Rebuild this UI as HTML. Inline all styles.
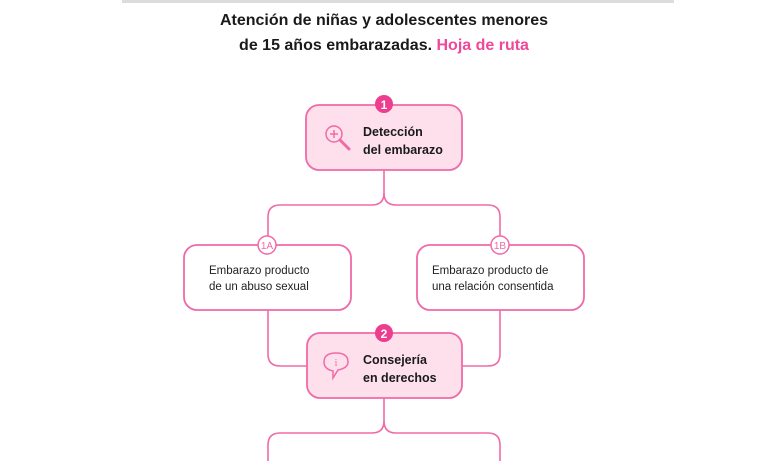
<!DOCTYPE html>
<html><head><meta charset="utf-8"><style>
body{margin:0;width:768px;height:461px;background:#fff;overflow:hidden;font-family:"Liberation Sans",sans-serif}
svg{position:absolute;left:0;top:0}
</style></head><body>
<svg width="768" height="461" viewBox="0 0 768 461">
<rect x="122" y="0" width="552" height="3" fill="#dcdcdc"/>
<text x="384" y="25" text-anchor="middle" font-size="16" font-weight="bold" fill="#1a1a1a" font-family="Liberation Sans, sans-serif">Atención de niñas y adolescentes menores</text>
<text x="384" y="50" text-anchor="middle" font-size="16" font-weight="bold" fill="#1a1a1a" font-family="Liberation Sans, sans-serif">de 15 años embarazadas. <tspan fill="#f0479a">Hoja de ruta</tspan></text>
<g fill="none" stroke="#f06aa8" stroke-width="1.6">
<path d="M384 170 V193 Q384 205 372 205 H280 Q268 205 268 217 V245"/>
<path d="M384 193 Q384 205 396 205 H488 Q500 205 500 217 V245"/>
<path d="M268 310 V354 Q268 366 280 366 H307"/>
<path d="M500 310 V354 Q500 366 488 366 H462"/>
<path d="M384 398 V421 Q384 433 372 433 H280 Q268 433 268 445 V461"/>
<path d="M384 421 Q384 433 396 433 H488 Q500 433 500 445 V461"/>
</g>
<rect x="306" y="105" width="156" height="65" rx="13" fill="#fde0ec" stroke="#f06aa8" stroke-width="1.8"/>
<rect x="307" y="333" width="155" height="65" rx="13" fill="#fde0ec" stroke="#f06aa8" stroke-width="1.8"/>
<rect x="184" y="245" width="167" height="65" rx="13" fill="#fff" stroke="#f06aa8" stroke-width="1.8"/>
<rect x="417" y="245" width="167" height="65" rx="13" fill="#fff" stroke="#f06aa8" stroke-width="1.8"/>
<circle cx="384" cy="104" r="9" fill="#ec3d8f"/>
<text x="384" y="109" text-anchor="middle" font-size="12" font-weight="bold" fill="#fff">1</text>
<circle cx="384" cy="333" r="9" fill="#ec3d8f"/>
<text x="384" y="338" text-anchor="middle" font-size="12" font-weight="bold" fill="#fff">2</text>
<circle cx="267" cy="245" r="9" fill="#fff" stroke="#f06aa8" stroke-width="1.5"/>
<text x="267" y="249" text-anchor="middle" font-size="10" fill="#f06aa8">1A</text>
<circle cx="500" cy="245" r="9" fill="#fff" stroke="#f06aa8" stroke-width="1.5"/>
<text x="500" y="249" text-anchor="middle" font-size="10" fill="#f06aa8">1B</text>
<g fill="none" stroke="#f06aa8" stroke-width="1.5">
<circle cx="334" cy="134" r="8"/><path d="M340 140 L349 149" stroke-width="3" stroke-linecap="round"/>
<path d="M334 130 V138 M330 134 H338"/>
<path d="M338 370 L333 378 L333 371 Q324 369 324 362 Q324 353 336 353 Q348 353 348 362 Q348 368 338 370 Z"/>
</g>
<text x="336" y="366" text-anchor="middle" font-size="10" fill="#f06aa8" font-family="Liberation Serif, serif">i</text>
<g font-size="12.5" font-weight="bold" fill="#1a1a1a">
<text x="363" y="136">Detección</text><text x="363" y="154">del embarazo</text>
<text x="363" y="364">Consejería</text><text x="363" y="382">en derechos</text>
</g>
<g font-size="11.5" fill="#222">
<text x="209" y="274">Embarazo producto</text><text x="209" y="290">de un abuso sexual</text>
<text x="432" y="274">Embarazo producto de</text><text x="432" y="290">una relación consentida</text>
</g>
</svg>
</body></html>
